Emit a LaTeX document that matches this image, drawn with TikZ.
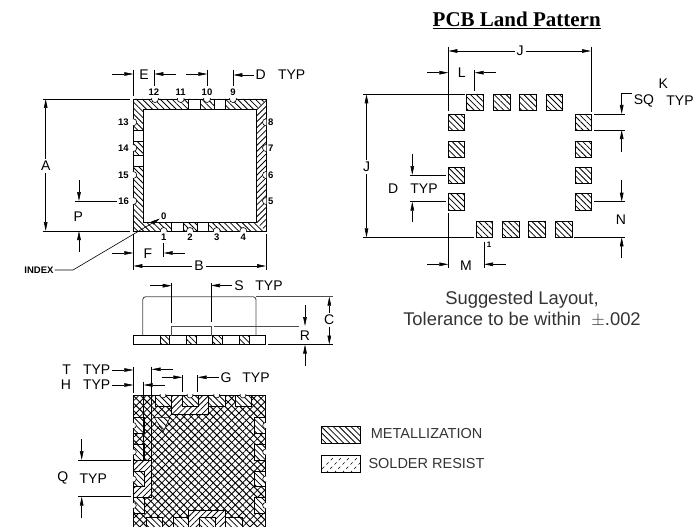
\documentclass[tikz,border=0pt]{standalone}
\usepackage{fontspec}
\setmainfont{Liberation Sans}
\usetikzlibrary{arrows.meta,patterns.meta}
\newfontfamily\titlefont{Liberation Serif}
\tikzset{
  dim/.style={-{Stealth[length=9pt,width=3.6pt,inset=0pt]},line width=.6pt},
  ext/.style={line width=.6pt},
  lab/.style={inner sep=0pt,outer sep=2pt,font=\fontsize{14}{15}\selectfont},
  num/.style={inner sep=0pt,outer sep=1pt,font=\fontsize{9.5}{11}\selectfont\bfseries},
  note/.style={inner sep=0pt,align=center,text=black!80,font=\fontsize{18.4}{21}\selectfont},
  legendtext/.style={inner sep=0pt,anchor=west,text=black!80,font=\fontsize{14.5}{16}\selectfont},
  metal/.style={pattern={Lines[angle=-45,distance=4.2pt,line width=.8pt]}},
  metalback/.style={pattern={Lines[angle=45,distance=4.2pt,line width=.8pt]}},
  crossa/.style={pattern={Lines[angle=-45,distance=5.2pt,line width=1pt]}},
  crossb/.style={pattern={Lines[angle=45,distance=5.2pt,line width=.8pt]}},
  landpad/.style={draw,line width=.7pt,metal},
  notch/.style={draw,fill=white,line width=.6pt},
  resist/.style={draw,fill=white,line width=.6pt},
  resisthatch/.style={line width=.6pt,dash pattern=on 3pt off 3pt},
  lid/.style={draw=black!70,line width=.9pt}
}
\begin{document}
\begin{tikzpicture}[x=1pt,y=-1pt]
  \useasboundingbox (0,0) rectangle (694,527);

  % top view
  \fill[metal] (133.3,99) -- (266,99) -- (256,109) -- (143,109) -- (143,222) -- (256,222) -- (266,231) -- (133.3,231) -- cycle;
  \fill[metalback] (266,99) -- (256,109) -- (256,222) -- (266,231) -- cycle;
  \draw[ext] (133.3,99) rectangle (266,231);
  \draw[ext] (143,109) rectangle (256,222);
  \filldraw[resist] (188.7,99) rectangle (200.3,109);
  \filldraw[resist] (214.7,99) rectangle (225.7,109);
  \filldraw[resist] (133.3,130) rectangle (143,141.7);
  \filldraw[resist] (133.3,155.7) rectangle (143,166.7);
  \filldraw[resist] (171.7,222) rectangle (183.3,231);
  \filldraw[resist] (197.7,222) rectangle (208.3,231);
  \begin{scope}
    \clip (132.9,98.6) rectangle (266.4,231.4);
    \filldraw[notch] (155,99) circle (3.5);
    \filldraw[notch] (180.7,99) circle (3.5);
    \filldraw[notch] (207,99) circle (3.5);
    \filldraw[notch] (233,99) circle (3.5);
    \filldraw[notch] (133.3,122.3) circle (3.5);
    \filldraw[notch] (133.3,148) circle (3.5);
    \filldraw[notch] (133.3,175) circle (3.5);
    \filldraw[notch] (133.3,201) circle (3.5);
    \filldraw[notch] (266,122.3) circle (3.5);
    \filldraw[notch] (266,148) circle (3.5);
    \filldraw[notch] (266,175) circle (3.5);
    \filldraw[notch] (266,201) circle (3.5);
    \filldraw[notch] (163.7,231) circle (3.5);
    \filldraw[notch] (190,231) circle (3.5);
    \filldraw[notch] (216.7,231) circle (3.5);
    \filldraw[notch] (243.3,231) circle (3.5);
  \end{scope}

  \node[num] (pin12) at (154,92) {12};
  \node[num] (pin11) at (180.7,92) {11};
  \node[num] (pin10) at (207,92) {10};
  \node[num] (pin9) at (233,92) {9};
  \node[num] (pin13) at (123.3,122) {13};
  \node[num] (pin14) at (123.3,148) {14};
  \node[num] (pin15) at (123.3,175) {15};
  \node[num] (pin16) at (123.7,201) {16};
  \node[num] (pin8) at (270.7,122) {8};
  \node[num] (pin7) at (270.7,148) {7};
  \node[num] (pin6) at (270.7,175) {6};
  \node[num] (pin5) at (270.7,201) {5};
  \node[num] (pin1) at (163.7,237.5) {1};
  \node[num] (pin2) at (190,237.5) {2};
  \node[num] (pin3) at (216.7,237.5) {3};
  \node[num] (pin4) at (243.3,237.5) {4};
  \node[num] (pin0) at (163.7,216) {0};
  \node[num] (index) at (39,270) {INDEX};

  \draw[ext] (133.3,70) -- (133.3,96);
  \draw[ext] (154.3,70) -- (154.3,86);
  \draw[ext] (207.3,70) -- (207.3,86);
  \draw[ext] (233.3,70) -- (233.3,86);
  \draw[dim] (112,74) -- (133.3,74);
  \draw[dim] (175.7,74) -- (154.3,74);
  \draw[dim] (186,74) -- (207.3,74);
  \node[lab] (labE) at (144,75) {E};
  \node[lab] (labD) at (260.7,75) {D};
  \node[lab] (labDtyp) at (291.7,75) {TYP};
  \draw[dim] (labD) -- (233.3,75);

  \draw[ext] (42.7,99) -- (130,99);
  \draw[ext] (42.7,231) -- (130,231);
  \node[lab] (labA) at (45.7,166) {A};
  \draw[dim] (labA) -- (45.7,99);
  \draw[dim] (labA) -- (45.7,231);
  \draw[ext] (75,201) -- (pin16);
  \draw[dim] (79,180) -- (79,201);
  \draw[dim] (79,252) -- (79,231);
  \node[lab] (labP) at (78.3,216.7) {P};

  \draw[ext] (133.3,234) -- (133.3,270);
  \draw[ext] (163.7,243) -- (163.7,257);
  \draw[ext] (266,234) -- (266,270);
  \draw[dim] (112,253) -- (133.3,253);
  \draw[dim] (185,253) -- (163.7,253);
  \node[lab] (labF) at (148,254) {F};
  \node[lab] (labB) at (199,266) {B};
  \draw[dim] (labB) -- (133.3,266);
  \draw[dim] (labB) -- (266,266);
  \draw[dim] (index.east) -- (73,270) -- (160,218.5);

  % side view
  \draw[lid,rounded corners=3pt] (142.7,335.7) -- (142.7,296.7) -- (256,296.7) -- (256,335.7);
  \draw[lid] (256,296.7) -- (332.7,296.7);
  \draw[ext] (133.3,335.7) rectangle (265.7,344);
  \filldraw[landpad] (160,335.7) rectangle (169.3,344);
  \filldraw[landpad] (186.7,335.7) rectangle (196.7,344);
  \filldraw[landpad] (212.3,335.7) rectangle (222.7,344);
  \filldraw[landpad] (239.3,335.7) rectangle (249.3,344);
  \draw[ext] (171.7,282.7) -- (171.7,323);
  \draw[ext] (211,282.7) -- (211,322);
  \draw[lid,line width=.7pt] (171.7,335.7) -- (171.7,326) -- (211,326) -- (211,335.7);
  \draw[lid,line width=.7pt] (214.3,326) -- (299.3,326);
  \draw[dim] (150,285.7) -- (171.7,285.7);
  \node[lab] (labS) at (239,285.5) {S};
  \node[lab] (labStyp) at (269,285.5) {TYP};
  \draw[dim] (labS) -- (211,285.5);
  \draw[ext] (268.3,344.5) -- (332.7,344.5);
  \node[lab] (labC) at (329.3,320) {C};
  \draw[dim] (labC) -- (329.3,296.7);
  \draw[dim] (labC) -- (329.3,344.5);
  \node[lab] (labR) at (305,336) {R};
  \draw[dim] (305,305) -- (305,326);
  \draw[dim] (305,365.7) -- (305,344.5);

  % bottom view
  \fill[crossa] (133.3,395) rectangle (265.7,527);
  \fill[crossb] (133.3,395) rectangle (265.7,527);
  \filldraw[resist] (155.7,395) rectangle (171,406.3);
  \filldraw[landpad] (155.7,395) rectangle (171,406.3);
  \filldraw[resist] (171.7,395) rectangle (208.3,414.3);
  \fill[metalback] (171.7,395) rectangle (208.3,414.3);
  \filldraw[resist] (182.3,395) rectangle (198,406.3);
  \filldraw[landpad] (182.3,395) rectangle (198,406.3);
  \filldraw[resist] (208.3,395) rectangle (225,406.3);
  \filldraw[landpad] (208.3,395) rectangle (225,406.3);
  \filldraw[resist] (235,395) rectangle (251,406.3);
  \filldraw[landpad] (235,395) rectangle (251,406.3);
  \filldraw[resist] (133.3,460) rectangle (151.7,497.7);
  \fill[metalback] (133.3,460) rectangle (151.7,497.7);
  \filldraw[resist] (133.3,471) rectangle (144,486.7);
  \filldraw[landpad] (133.3,471) rectangle (144,486.7);
  \filldraw[resist] (133.3,417.7) rectangle (144,433.3);
  \filldraw[landpad] (133.3,417.7) rectangle (144,433.3);
  \filldraw[resist] (133.3,444.3) rectangle (144,460);
  \filldraw[landpad] (133.3,444.3) rectangle (144,460);
  \filldraw[resist] (133.3,497.7) rectangle (144,513.3);
  \filldraw[landpad] (133.3,497.7) rectangle (144,513.3);
  \filldraw[resist] (254.3,417.7) rectangle (265.7,433.3);
  \filldraw[landpad] (254.3,417.7) rectangle (265.7,433.3);
  \filldraw[resist] (254.3,444.3) rectangle (265.7,460);
  \filldraw[landpad] (254.3,444.3) rectangle (265.7,460);
  \filldraw[resist] (254.3,471) rectangle (265.7,486.7);
  \filldraw[landpad] (254.3,471) rectangle (265.7,486.7);
  \filldraw[resist] (254.3,497.7) rectangle (265.7,513.3);
  \filldraw[landpad] (254.3,497.7) rectangle (265.7,513.3);
  \filldraw[resist] (188.3,510) rectangle (225.7,530);
  \fill[metalback] (188.3,510) rectangle (225.7,527);
  \filldraw[resist] (146.7,517.3) rectangle (162.7,530);
  \filldraw[landpad] (146.7,517.3) rectangle (162.7,530);
  \filldraw[resist] (173.3,517.3) rectangle (188.3,530);
  \filldraw[landpad] (173.3,517.3) rectangle (188.3,530);
  \filldraw[resist] (199.7,517.3) rectangle (215.7,530);
  \filldraw[landpad] (199.7,517.3) rectangle (215.7,530);
  \filldraw[resist] (225.7,517.3) rectangle (242.3,530);
  \filldraw[landpad] (225.7,517.3) rectangle (242.3,530);
  \filldraw[resist] (154.3,417.3) -- (170,417.3) -- (163.3,431.7) -- cycle;
  \fill[metal] (154.3,417.3) -- (170,417.3) -- (163.3,431.7) -- cycle;
  \draw[ext] (133.3,530) -- (133.3,395) -- (265.7,395) -- (265.7,530);
  \begin{scope}
    \clip (132.9,394.6) rectangle (266.1,527);
    \filldraw[notch] (163,395) circle (3);
    \filldraw[notch] (190,395) circle (3);
    \filldraw[notch] (216.7,395) circle (3);
    \filldraw[notch] (243,395) circle (3);
    \filldraw[notch] (133.3,425.5) circle (3);
    \filldraw[notch] (133.3,452) circle (3);
    \filldraw[notch] (133.3,479) circle (3);
    \filldraw[notch] (133.3,505.5) circle (3);
    \filldraw[notch] (265.7,425.5) circle (3);
    \filldraw[notch] (265.7,452) circle (3);
    \filldraw[notch] (265.7,479) circle (3);
    \filldraw[notch] (265.7,505.5) circle (3);
  \end{scope}

  \draw[ext] (133.3,366.7) -- (133.3,393);
  \draw[ext] (143.7,381.7) -- (143.7,460);
  \draw[ext] (151.7,366.7) -- (151.7,497);
  \draw[ext] (182.3,375) -- (182.3,392);
  \draw[ext] (197.7,375) -- (197.7,392);
  \node[lab] (labT) at (66.7,370) {T};
  \node[lab] (labTtyp) at (96.7,370) {TYP};
  \node[lab] (labH) at (66,385) {H};
  \node[lab] (labHtyp) at (96.7,385) {TYP};
  \node[lab] (labG) at (226,377.3) {G};
  \node[lab] (labGtyp) at (256,377.3) {TYP};
  \node[lab] (labQ) at (62.7,478.3) {Q};
  \node[lab] (labQtyp) at (93.3,478.3) {TYP};
  \draw[dim] (labTtyp.east) -- (133.3,370);
  \draw[dim] (173.3,369.3) -- (151.7,369.3);
  \draw[dim] (labHtyp.east) -- (133.3,385);
  \draw[dim] (165,385) -- (143.7,385);
  \draw[dim] (161.7,377.3) -- (182.3,377.3);
  \draw[dim] (labG) -- (197.7,377.3);
  \draw[ext] (78.3,460) -- (130.7,460);
  \draw[ext] (78.3,496.7) -- (130.7,496.7);
  \draw[dim] (81.7,439.3) -- (81.7,460);
  \draw[dim] (81.7,518.3) -- (81.7,496.7);

  % legend
  \filldraw[landpad] (321,426.7) rectangle (360.7,443.3);
  \begin{scope}
    \clip (321,455.7) rectangle (360.7,472.3);
    \draw[resisthatch] (318,473) -- (336,455);
    \draw[resisthatch] (326,473) -- (344,455);
    \draw[resisthatch] (334,473) -- (352,455);
    \draw[resisthatch] (342,473) -- (360,455);
    \draw[resisthatch] (350,473) -- (368,455);
  \end{scope}
  \draw[ext] (321,455.7) rectangle (360.7,472.3);
  \node[legendtext] (legmetal) at (370.7,434) {METALLIZATION};
  \node[legendtext] (legresist) at (368.3,464) {SOLDER RESIST};

  % land pattern
  \node[inner sep=0pt,font=\fontsize{21}{24}\selectfont\titlefont\bfseries] (title) at (516.7,20.5) {\underline{PCB Land Pattern}};
  \filldraw[landpad] (466.7,94.3) rectangle (483.3,110.3);
  \filldraw[landpad] (493.3,94.3) rectangle (510,110.3);
  \filldraw[landpad] (519.3,94.3) rectangle (536,110.3);
  \filldraw[landpad] (546,94.3) rectangle (562.7,110.3);
  \filldraw[landpad] (448.3,114.3) rectangle (464.7,130.7);
  \filldraw[landpad] (448.3,141) rectangle (464.7,157);
  \filldraw[landpad] (448.3,167) rectangle (464.7,183);
  \filldraw[landpad] (448.3,193.3) rectangle (464.7,210);
  \filldraw[landpad] (575,114.3) rectangle (591.7,130.7);
  \filldraw[landpad] (575,141) rectangle (591.7,157);
  \filldraw[landpad] (575,167) rectangle (591.7,183);
  \filldraw[landpad] (575,193.3) rectangle (591.7,210);
  \filldraw[landpad] (476,221) rectangle (492.7,237.3);
  \filldraw[landpad] (502.7,221) rectangle (519,237.3);
  \filldraw[landpad] (528.7,221) rectangle (545.3,237.3);
  \filldraw[landpad] (555.3,221) rectangle (572,237.3);

  \draw[ext] (448.3,47) -- (448.3,111);
  \draw[ext] (448.3,213.3) -- (448.3,268);
  \draw[ext] (591,47) -- (591,112);
  \node[lab] (labJtop) at (520,51) {J};
  \draw[dim] (labJtop) -- (448.3,51);
  \draw[dim] (labJtop) -- (591,51);
  \draw[ext] (474.7,70) -- (474.7,91);
  \draw[dim] (427.3,72.7) -- (448.3,72.7);
  \draw[dim] (496,72.7) -- (474.7,72.7);
  \node[lab] (labL) at (461.7,73) {L};
  \draw[ext] (363.3,94.3) -- (465,94.3);
  \draw[ext] (363.3,237.3) -- (474,237.3);
  \node[lab] (labJleft) at (366.5,167) {J};
  \draw[dim] (labJleft) -- (366.5,94.3);
  \draw[dim] (labJleft) -- (366.5,237.3);
  \draw[ext] (410,175) -- (446,175);
  \draw[ext] (410,201.7) -- (446,201.7);
  \draw[dim] (412.3,154) -- (412.3,175);
  \draw[dim] (412.3,221.7) -- (412.3,201.7);
  \node[lab] (labDland) at (393.3,189) {D};
  \node[lab] (labDlandtyp) at (424,189) {TYP};
  \node[lab] (labK) at (663.3,84) {K};
  \node[lab] (labSQ) at (644,101) {SQ};
  \node[lab] (labKtyp) at (680,101) {TYP};
  \coordinate (sqend) at (labSQ.west |- 0,93.3);
  \draw[dim] (sqend) -- (621.7,93.3) -- (621.7,114);
  \draw[ext] (594.3,114) -- (625,114);
  \draw[ext] (594.3,130) -- (625,130);
  \draw[dim] (621.7,151.7) -- (621.7,130);
  \draw[ext] (594.3,201.7) -- (625,201.7);
  \draw[ext] (574.3,237.3) -- (625,237.3);
  \draw[dim] (621.7,180) -- (621.7,201.7);
  \draw[dim] (621.7,258.3) -- (621.7,237.3);
  \node[lab] (labN) at (621,220) {N};
  \draw[ext] (484,241.7) -- (484,268);
  \draw[dim] (427.3,264.3) -- (448.3,264.3);
  \draw[dim] (505.7,264.3) -- (484,264.3);
  \node[lab] (labM) at (466,266) {M};
  \node[num,font=\fontsize{8}{9}\selectfont\bfseries] (land1) at (489,245) {1};
  \node[note] (layout) at (522,309.5) {Suggested Layout,\\Tolerance to be within\ \ $\pm$.002};
\end{tikzpicture}
\end{document}
